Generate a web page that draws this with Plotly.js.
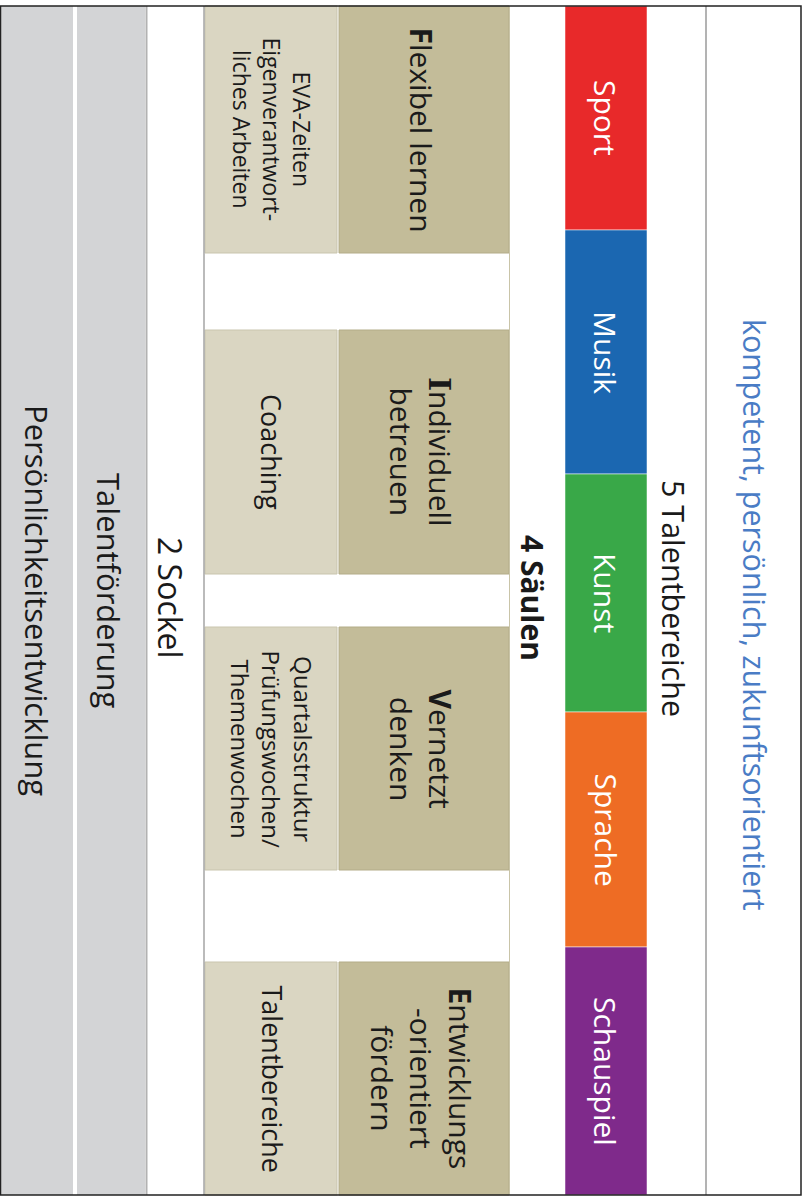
<!DOCTYPE html>
<html><head><meta charset="utf-8">
<script src="https://cdn.plot.ly/plotly-3.0.1.min.js"></script>
<style>html,body{margin:0;padding:0;background:#fff}#chart{width:804px;height:1199px}</style>
</head><body><div id="chart"></div><script>
// ---- data ----
const talents = ['Sport', 'Musik', 'Kunst', 'Sprache', 'Schauspiel'];
const talentEdges = [6, 230, 474, 712, 947, 1195];
const pillarTitles = ['<b>F</b>lexibel lernen', '<b><span style="font-family:DejaVu Serif">I</span></b>ndividuell<br>betreuen', '<b>V</b>ernetzt<br>denken', '<b>E</b>ntwicklungs<br>-orientiert<br>fördern'];
const pillarDetails = ['EVA-Zeiten<br>Eigenverantwort-<br>liches Arbeiten', 'Coaching', 'Quartalsstruktur<br>Prüfungswochen/<br>Themenwochen', 'Talentbereiche'];
const pillarStart = [6, 330, 627, 962];
const pillarEnd = [253, 574, 870, 1195];
const sockel = ['Persönlichkeitsentwicklung', 'Talentförderung'];
const headingTalents = '5 Talentbereiche';
const headingPillars = '4 Säulen';
const headingSockel = '2 Sockel';
const motto = 'kompetent, persönlich, zukunftsorientiert';

// ---- styles / geometry ----
const talentColors = ['#e8292a', '#1b67b1', '#39a848', '#ee6c24', '#7f2a8b'];
const FONT = 'Open Sans, sans-serif';
const TOP = 6, BOTTOM = 1195;
const col = {
  pers: [0, 73], talf: [77, 145], detail: [205, 337], title: [339, 509], talent: [565, 647]
};
const mid = c => (c[0] + c[1]) / 2;
const wid = c => c[1] - c[0];

const traces = [];
// sockel
traces.push({
  type: 'bar', x: [mid(col.pers), mid(col.talf)], width: [wid(col.pers), wid(col.talf)],
  base: sockel.map(() => TOP), y: sockel.map(() => BOTTOM - TOP),
  marker: {color: '#d3d4d6', line: {width: 0}}, hoverinfo: 'skip'
});
// pillar details (light)
traces.push({
  type: 'bar', x: pillarDetails.map(() => mid(col.detail)), width: pillarDetails.map(() => wid(col.detail)),
  base: pillarStart, y: pillarStart.map((s, i) => pillarEnd[i] - s),
  marker: {color: '#dad6c2', line: {width: 1, color: '#c9c5ae'}}, hoverinfo: 'skip'
});
// pillar titles (dark)
traces.push({
  type: 'bar', x: pillarTitles.map(() => mid(col.title)), width: pillarTitles.map(() => wid(col.title)),
  base: pillarStart, y: pillarStart.map((s, i) => pillarEnd[i] - s),
  marker: {color: '#c3bc99', line: {width: 1, color: '#b3ac88'}}, hoverinfo: 'skip'
});
// talents
traces.push({
  type: 'bar', x: talents.map(() => mid(col.talent)), width: talents.map(() => wid(col.talent)),
  base: talents.map((t, i) => talentEdges[i]), y: talents.map((t, i) => talentEdges[i + 1] - talentEdges[i]),
  marker: {color: talentColors, line: {width: 1, color: 'rgba(255,255,255,0.5)'}}, hoverinfo: 'skip'
});

const ann = [];
function A(text, x, y, size, opts) {
  ann.push(Object.assign({
    text: text, x: x, y: y, xref: 'x', yref: 'y', showarrow: false, textangle: 90,
    xanchor: 'center', yanchor: 'middle', align: 'center',
    font: {family: FONT, size: size, color: '#1a1a1a'}
  }, opts || {}));
}
talents.forEach((t, i) => A(t, mid(col.talent), (talentEdges[i] + talentEdges[i + 1]) / 2, 30, {font: {family: FONT, size: 30, color: '#ffffff'}}));
pillarTitles.forEach((t, i) => A(t, mid(col.title) - 3, (pillarStart[i] + pillarEnd[i]) / 2, 30));
const detailSizes = [23, 27, 24, 27];
pillarDetails.forEach((t, i) => A(t, mid(col.detail) + 1, (pillarStart[i] + pillarEnd[i]) / 2, detailSizes[i]));
A(sockel[0], 37, 600, 31);
A(sockel[1], 109, 590, 31);
A(headingSockel, 171, 598, 32);
A('<b>' + headingPillars + '</b>', 533, 598, 30);
A(headingTalents, 674, 598, 30.5);
A(motto, 755, 615, 30.5, {font: {family: FONT, size: 30.5, color: '#4a7cc5'}});

const shapes = [
  {type: 'line', x0: 146.5, x1: 146.5, y0: TOP, y1: BOTTOM, line: {color: '#b2b2b2', width: 2}},
  {type: 'line', x0: 204, x1: 204, y0: TOP, y1: BOTTOM, line: {color: '#a4a4a4', width: 1.5}},
  {type: 'line', x0: 509.5, x1: 509.5, y0: TOP, y1: BOTTOM, line: {color: '#c9c4a8', width: 1}},
  {type: 'line', x0: 706, x1: 706, y0: TOP, y1: BOTTOM, line: {color: '#b3b3b3', width: 2}},
  {type: 'rect', x0: 0.5, x1: 801, y0: TOP, y1: BOTTOM, line: {color: '#222222', width: 1.5}, fillcolor: 'rgba(0,0,0,0)'}
];

Plotly.newPlot('chart', traces, {
  width: 804, height: 1199, margin: {l: 0, r: 0, t: 0, b: 0},
  paper_bgcolor: '#ffffff', plot_bgcolor: '#ffffff', barmode: 'overlay', showlegend: false,
  xaxis: {range: [0, 804], visible: false, fixedrange: true},
  yaxis: {range: [1199, 0], visible: false, fixedrange: true},
  annotations: ann, shapes: shapes
}, {staticPlot: true});
</script></body></html>
